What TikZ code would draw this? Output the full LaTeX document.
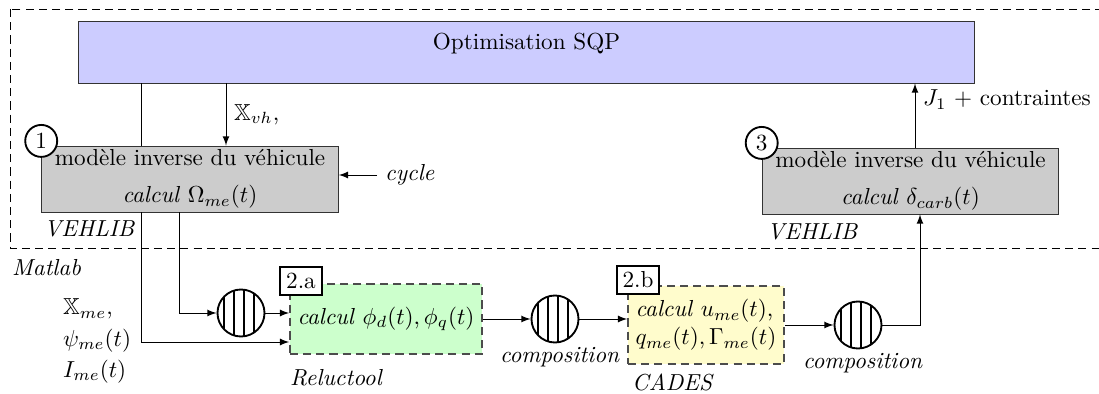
\documentclass[tikz,border=0pt]{standalone}
\usepackage{amssymb}
\usetikzlibrary{positioning}

\begin{document}
\begin{tikzpicture}[x=0.1517cm, y=0.1517cm, >=latex,
    tirets/.style={dash pattern=on 3.5pt off 2.2pt},
    modele/.style={draw=black!80, fill=black!20, minimum width=4.5cm, minimum height=0.99cm, inner ysep=1.5pt, align=center},
    outil/.style={draw=black!70, tirets, semithick, minimum height=1.06cm},
    numero/.style={circle, draw, thick, fill=white, minimum size=0.485cm, inner sep=0pt},
    etape/.style={draw, thick, fill=white, inner sep=2.5pt},
    legende/.style={anchor=west, font=\itshape},
    compo/.style={circle, draw, thick, minimum size=0.713cm, inner sep=0pt,
        path picture={\foreach \dx in {-0.255,-0.105,0.045,0.195}
            \draw ([xshift=\dx cm]path picture bounding box.north) -- ([xshift=\dx cm]path picture bounding box.south);}}]

    \useasboundingbox (0,0) rectangle (109.9,39.4);

    % --- 1. Cadre Matlab ---
    \draw[tirets] (1.0,38.5) rectangle (111,14.6);
    \node[legende] (matlab) at (0.4,12.6) {Matlab};

    % --- 2. Optimisation ---
    \node[draw=black!80, fill=blue!20, minimum width=13.58cm, minimum height=0.94cm] (sqp) at (52.65,34.2) {};
    \node (sqptxt) at (52.65,35.0) {Optimisation SQP};

    % --- 3. Modeles vehicule (VEHLIB) ---
    \node[modele] (b1) at (19.0,21.5) {modèle inverse du véhicule\\[4pt] \textit{calcul} $\Omega_{me}(t)$};
    \node[numero] (n1) at ([yshift=2pt]b1.north west) {1};
    \node[legende] (veh1) at (3.6,16.5) {VEHLIB};
    \node[legende] (cyc) at (37.7,21.9) {cycle};

    \node[modele] (b3) at (91.05,21.3) {modèle inverse du véhicule\\[4pt] \textit{calcul} $\delta_{carb}(t)$};
    \node[numero] (n3) at ([yshift=2pt]b3.north west) {3};
    \node[legende] (veh3) at (75.9,16.2) {VEHLIB};

    % --- 4. Chaine Reluctool / CADES ---
    \node[anchor=west, align=left] (xme) at (5.5,5.3) {$\mathbb{X}_{me}$,\\[1.5pt] $\psi_{me}(t)$\\[1.5pt] $I_{me}(t)$};

    \node[compo] (c1) at (24.1,8.1) {};
    \node[outil, fill=green!20, minimum width=2.91cm] (phi) at (38.6,7.5) {\textit{calcul} $\phi_d(t), \phi_q(t)$};
    \node[etape] (e2a) at (30.1,11.3) {2.a};
    \node[legende] (reluc) at (28.2,1.6) {Reluctool};

    \node[compo] (c2) at (55.5,7.5) {};
    \node[below=0.5pt of c2, xshift=2pt, inner sep=1pt, font=\itshape] (c2txt) {composition};

    \node[outil, fill=yellow!20, minimum width=2.37cm, minimum height=1.18cm, align=left] (uq) at (70.6,6.9) {\textit{calcul} $u_{me}(t)$,\\ $q_{me}(t), \Gamma_{me}(t)$};
    \node[etape] (e2b) at (63.8,11.4) {2.b};
    \node[legende] (cades) at (62.4,1.2) {CADES};

    \node[compo] (c3) at (85.8,6.9) {};
    \node[below=0.5pt of c3, xshift=2pt, inner sep=1pt, font=\itshape] (c3txt) {composition};

    % --- 5. Liaisons ---
    \coordinate (xa) at (14.1,0);
    \coordinate (xb) at (22.6,0);
    \coordinate (xc) at (17.9,0);
    \coordinate (xd) at (91.5,0);
    \coordinate (xe) at (92.0,0);
    \coordinate (ya) at (0,5.2);

    \draw (sqp.south -| xa) -- (b1.north -| xa);
    \draw[->] (sqp.south -| xb) -- node[right] (xvh) {$\mathbb{X}_{vh}$,} (b1.north -| xb);
    \draw[->] (cyc.west) -- (cyc.west -| b1.east);

    \draw[->] (b1.south -| xc) |- (c1);
    \draw[->] (b1.south -| xa) |- (phi.west |- ya);
    \draw[->] (c1) -- (c1 -| phi.west);
    \draw[->] (phi) -- (c2);
    \draw[->] (c2) -- (c2 -| uq.west);
    \draw[->] (uq) -- (c3);
    \draw[->] (c3) -| (b3.south -| xe);
    \draw[->] (b3.north -| xd) -- node[right, pos=0.75] (j1) {$J_1$ + contraintes} (sqp.south -| xd);

\end{tikzpicture}
\end{document}
